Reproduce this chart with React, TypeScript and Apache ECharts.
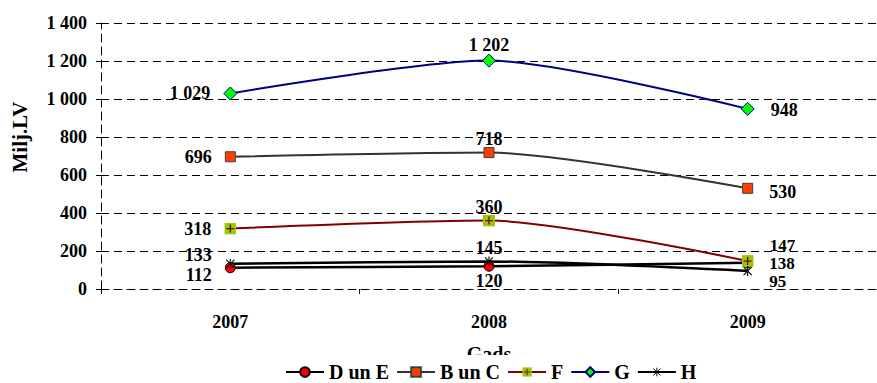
import React, { useEffect, useRef } from "react";
import * as echarts from "echarts";

const years = ["2007", "2008", "2009"];
const seriesNames = ["D un E", "B un C", "F", "G", "H"];
const dUnE = [112, 120, 138];
const bUnC = [696, 718, 530];
const fVals = [318, 360, 147];
const gVals = [1029, 1202, 948];
const hVals = [133, 145, 95];
const yTicks = [0, 200, 400, 600, 800, 1000, 1200, 1400];

const FONT = '"Liberation Serif", "Times New Roman", serif';

const fmt = (v: number) => {
  const s = String(Math.round(v));
  return s.length > 3 ? s.slice(0, s.length - 3) + " " + s.slice(-3) : s;
};

const svgUri = (svg: string) =>
  "image://data:image/svg+xml;charset=utf-8," + encodeURIComponent(svg);

const plusSquare = svgUri(
  '<svg xmlns="http://www.w3.org/2000/svg" width="24" height="24" viewBox="0 0 24 24">' +
    '<rect x="0" y="0" width="24" height="24" fill="#99CC00"/>' +
    '<path d="M12 4 L12 20 M4 12 L20 12" stroke="#800000" stroke-width="2.6" fill="none"/>' +
    "</svg>"
);
const asterisk = svgUri(
  '<svg xmlns="http://www.w3.org/2000/svg" width="24" height="24" viewBox="0 0 24 24">' +
    '<path d="M3 3 L21 21 M21 3 L3 21 M12 1 L12 23" stroke="#000000" stroke-width="2.4" fill="none"/>' +
    "</svg>"
);

type LblCfg = { pos: string; off: [number, number]; size?: number };

const DIST: Record<string, number> = { left: 13, right: 16, top: 0, bottom: 0 };

const mkData = (vals: number[], cfg: LblCfg[]) =>
  vals.map((v, i) => ({
    value: v,
    label: {
      position: cfg[i].pos,
      offset: cfg[i].off,
      distance: DIST[cfg[i].pos],
      ...(cfg[i].size ? { fontSize: cfg[i].size } : {}),
    },
  }));

export default function App() {
  const ref = useRef<HTMLDivElement>(null);
  useEffect(() => {
    if (!ref.current) return;
    const chart = echarts.init(ref.current, undefined, { renderer: "svg" });
    const labelBase = {
      show: true,
      fontFamily: FONT,
      fontWeight: "bold",
      fontSize: 18,
      lineHeight: 14,
      color: "#000",
      formatter: (p: any) => fmt(p.value),
    };
    const option: any = {
      animation: false,
      backgroundColor: "#fff",
      grid: { left: 101, top: 23, width: 779, height: 266, containLabel: false },
      graphic: [
        {
          type: "text",
          x: 20,
          y: 137,
          rotation: Math.PI / 2,
          style: {
            text: "Milj.LV",
            fontFamily: FONT,
            fontWeight: "bold",
            fontSize: 21,
            fill: "#000",
            align: "center",
            verticalAlign: "middle",
          },
        },
      ],
      legend: {
        data: seriesNames,
        left: 281,
        top: 355,
        padding: [7, 4, 4, 4],
        backgroundColor: "#fff",
        itemWidth: 38,
        itemHeight: 12,
        itemGap: 7,
        textStyle: {
          fontFamily: FONT,
          fontWeight: "bold",
          fontSize: 20,
          lineHeight: 17,
          color: "#000",
        },
        z: 10,
      },
      xAxis: {
        type: "category",
        data: years,
        boundaryGap: true,
        name: "Gads",
        nameLocation: "middle",
        nameGap: 55,
        nameTextStyle: { fontFamily: FONT, fontWeight: "bold", fontSize: 20, color: "#000" },
        axisLine: { show: true, lineStyle: { color: "#000", type: [8, 5], width: 1 } },
        axisTick: { show: true, length: 5, lineStyle: { color: "#000" } },
        axisLabel: { fontFamily: FONT, fontWeight: "bold", fontSize: 18, color: "#000", margin: 24 },
        splitLine: { show: false },
      },
      yAxis: {
        type: "value",
        min: 0,
        max: 1400,
        interval: 200,
        axisLine: { show: true, lineStyle: { color: "#000", type: [8, 5], width: 1 } },
        axisTick: { show: true, length: 5, lineStyle: { color: "#000" } },
        axisLabel: {
          fontFamily: FONT,
          fontWeight: "bold",
          fontSize: 18,
          color: "#000",
          margin: 14,
          formatter: (v: number) => (yTicks.includes(v) ? fmt(v) : ""),
        },
        splitLine: { show: true, lineStyle: { color: "#000", type: [8, 5], width: 1 } },
      },
      series: [
        {
          name: "D un E",
          type: "line",
          smooth: 0.25,
          data: mkData(dUnE, [
            { pos: "left", off: [0, 7] },
            { pos: "bottom", off: [0, 2] },
            { pos: "right", off: [0, 1], size: 17 },
          ]),
          symbol: "circle",
          symbolSize: 10,
          lineStyle: { color: "#000", width: 2.5 },
          itemStyle: { color: "#FF0000", borderColor: "#000", borderWidth: 1 },
          label: labelBase,
          z: 3,
        },
        {
          name: "B un C",
          type: "line",
          smooth: 0.25,
          data: mkData(bUnC, [
            { pos: "left", off: [0, 0] },
            { pos: "top", off: [0, -1] },
            { pos: "right", off: [0, 4] },
          ]),
          symbol: "rect",
          symbolSize: 10,
          lineStyle: { color: "#333333", width: 2 },
          itemStyle: { color: "#FF3F00", borderColor: "#404040", borderWidth: 1 },
          label: labelBase,
          z: 3,
        },
        {
          name: "F",
          type: "line",
          smooth: 0.25,
          data: mkData(fVals, [
            { pos: "left", off: [0, 0] },
            { pos: "top", off: [0, -1] },
            { pos: "right", off: [0, -16], size: 17 },
          ]),
          symbol: plusSquare,
          symbolSize: 12,
          lineStyle: { color: "#800000", width: 2 },
          itemStyle: { color: "#99CC00" },
          label: labelBase,
          z: 3,
        },
        {
          name: "G",
          type: "line",
          smooth: 0.25,
          data: mkData(gVals, [
            { pos: "left", off: [0, 0] },
            { pos: "top", off: [0, -2] },
            { pos: "right", off: [0, 1] },
          ]),
          symbol: "diamond",
          symbolSize: 13,
          lineStyle: { color: "#000080", width: 2 },
          itemStyle: { color: "#00FF00", borderColor: "#000080", borderWidth: 1 },
          label: labelBase,
          z: 3,
        },
        {
          name: "H",
          type: "line",
          smooth: 0.25,
          data: mkData(hVals, [
            { pos: "left", off: [0, -9] },
            { pos: "top", off: [0, -1] },
            { pos: "right", off: [0, 11], size: 17 },
          ]),
          symbol: asterisk,
          symbolSize: 11,
          lineStyle: { color: "#000", width: 2.5 },
          itemStyle: { color: "#000" },
          label: labelBase,
          z: 3,
        },
      ],
    };
    chart.setOption(option);
    return () => chart.dispose();
  }, []);
  return (
    <div
      ref={ref}
      style={{ position: "fixed", left: 0, top: 0, width: 877, height: 383, background: "#fff" }}
    />
  );
}
